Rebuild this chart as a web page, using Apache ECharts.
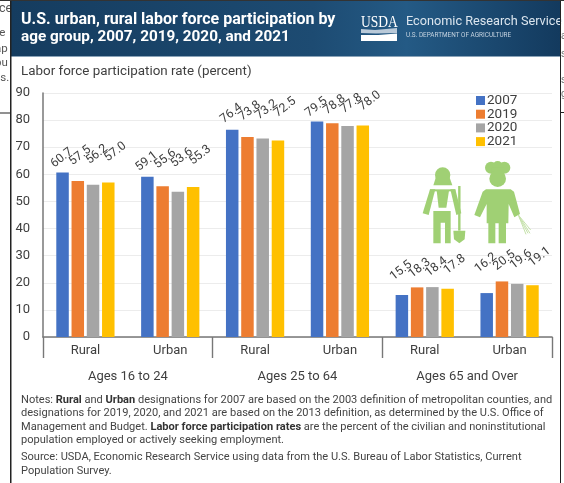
<!DOCTYPE html>
<html><head><meta charset="utf-8">
<style>html,body{margin:0;padding:0;background:#fff}#c{width:564px;height:483px;filter:blur(0.4px)}</style>
<script src="https://cdn.jsdelivr.net/npm/echarts@6/dist/echarts.min.js"></script>
</head><body><div id="c"></div>
<script>
const categories = ['Rural','Urban','Rural','Urban','Rural','Urban'];
const ageGroups = ['Ages 16 to 24','Ages 25 to 64','Ages 65 and Over'];
const years = ['2007','2019','2020','2021'];
const v2007 = [60.7,59.1,76.4,79.5,15.5,16.2];
const v2019 = [57.5,55.6,73.8,78.8,18.3,20.5];
const v2020 = [56.2,53.6,73.2,77.8,18.4,19.6];
const v2021 = [57.0,55.3,72.5,78.0,17.8,19.1];
const colors = ['#4472C4','#ED7D31','#A5A5A5','#FFC000'];
const values = [v2007,v2019,v2020,v2021];
const INK = '#3f3f3f', FONT = 'Roboto, "Liberation Sans", sans-serif', GREEN = '#A0D074';

function txt(x,y,text,size,fill,weight,z){
  return {type:'text',z:z||20,style:{x,y,text,font:(weight||'normal')+' '+size+'px '+FONT,fill,textVerticalAlign:'middle'}};
}
function rect(x,y,w,h,fill,r,z){return {type:'rect',z:z||20,shape:{x,y,width:w,height:h,r:r||0},style:{fill}};}
// icon helpers: coordinates in a 3x sketch space anchored at the icon area
const ix = x => 380 + x/3, iy = y => 80 + y/3;
function ipoly(pts,fill){return {type:'polygon',z:20,shape:{points:pts.map(p=>[ix(p[0]),iy(p[1])])},style:{fill:fill||GREEN}};}
function icirc(x,y,r,fill){return {type:'circle',z:20,shape:{cx:ix(x),cy:iy(y),r:r/3},style:{fill:fill||GREEN}};}
function iline(a,b,c,d,stroke,w){return {type:'line',z:20,shape:{x1:ix(a),y1:iy(b),x2:ix(c),y2:iy(d)},style:{stroke:stroke||GREEN,lineWidth:w||1}};}

const NOTE = 11.05;
const noteRich = {b:{font:'bold '+NOTE+'px '+FONT,fill:'#333'}, n:{font:'normal '+NOTE+'px '+FONT,fill:'#444'}};
function richTxt(y,text){
  return {type:'text',z:20,style:{x:21,y,text,font:'normal '+NOTE+'px '+FONT,fill:'#444',rich:noteRich,textVerticalAlign:'middle'}};
}

const graphic = [
  // fragments of the surrounding page
  rect(10,0,1.5,483,'#222',0,30),
  rect(560,0,1,483,'#222',0,30),
  rect(0,112.5,10,1,'#222',0,30),
  rect(560,112,4,1,'#222',0,30),
  rect(0,0,564,1,'#333',0,30),
  rect(11,57,4,60,'#fff',0,4),
  txt(-1,9,'ce',12.5,'#555','normal',2), txt(-7,33,'he',11.5,'#555','normal',2), txt(-5,49,'ap',11.5,'#555','normal',2),
  txt(-5,63,'pu',11.5,'#555','normal',2), txt(-6,78,'us.',11.5,'#555','normal',2),
  txt(561,36,'a',10,'#777','normal',2), txt(561,54,'s',10,'#777','normal',2), txt(561,80,'s',10,'#777','normal',2), txt(561,94,'g',10,'#777','normal',2),
  // header
  {type:'rect',z:10,shape:{x:11,y:0,width:549,height:56.5},style:{fill:{type:'linear',x:0,y:0,x2:1,y2:0,colorStops:[{offset:0,color:'#153c5f'},{offset:0.55,color:'#1d4b72'},{offset:0.72,color:'#245a85'},{offset:1,color:'#133a5e'}]}}},
  rect(11,56,549,1,'#8aa3b8',0,11),
  txt(21,20,'U.S. urban, rural labor force participation by',16,'#fff','bold'),
  txt(21,37.5,'age group, 2007, 2019, 2020, and 2021',15.3,'#fff','bold'),
  {type:'text',z:20,scaleX:0.82,originX:361,originY:23,style:{x:361,y:23,text:'USDA',font:'normal 16.5px "Liberation Serif", serif',fill:'#fff',textVerticalAlign:'middle'}},
  {type:'polygon',z:20,shape:{points:[[361,29],[375,30],[397,28],[397,33],[376,33.5],[361,33]]},style:{fill:'#b9c9d8'}},
  {type:'polygon',z:20,shape:{points:[[361,35],[378,35],[397,33.5],[397,41],[361,41]]},style:{fill:'#fff'}},
  txt(406,22,'Economic Research Service',12.7,'#dbe5ee'),
  txt(406,35.5,'U.S. DEPARTMENT OF AGRICULTURE',6.4,'#c5d3e0'),
  // axis title
  txt(21,72,'Labor force participation rate (percent)',13.4,INK),
  // notes
  richTxt(400.5,'Notes: {b|Rural} and {b|Urban} designations for 2007 are based on the 2003 definition of metropolitan counties, and'),
  richTxt(413.5,'designations for 2019, 2020, and 2021 are based on the 2013 definition, as determined by the U.S. Office of'),
  richTxt(427,'Management and Budget. {b|Labor force participation rates} are the percent of the civilian and noninstitutional'),
  richTxt(440.5,'population employed or actively seeking employment.'),
  richTxt(457.5,'Source: USDA, Economic Research Service using data from the U.S. Bureau of Labor Statistics, Current'),
  richTxt(471,'Population Survey.'),
  // farmer icon
  icirc(188,285,23), ipoly([[168,290],[208,290],[217,316],[160,316]]),
  ipoly([[150,328],[166,328],[146,405],[128,400]]), ipoly([[211,328],[226,328],[244,400],[229,405]]),
  ipoly([[150,328],[226,328],[226,334],[150,334]]),
  ipoly([[170,332],[207,332],[199,383],[176,383]]),
  ipoly([[160,393],[212,393],[212,490],[195,490],[195,428],[182,428],[182,490],[160,490]]),
  iline(238,318,238,452,GREEN,2.4),
  ipoly([[220,452],[256,452],[254,478],[238,490],[222,478]]),
  // chef icon
  icirc(333,263,18), icirc(353,258,15), icirc(373,263,18), ipoly([[335,262],[372,262],[372,285],[335,285]]),
  icirc(353,296,25),
  ipoly([[318,328],[392,328],[402,335],[420,402],[403,412],[386,372],[385,430],[378,430],[378,490],[356,490],[356,430],[346,430],[346,490],[325,490],[325,430],[320,430],[320,372],[300,412],[283,405],[308,335]]),
  iline(415,405,450,460,'#c6e2ab',1), iline(415,405,438,463,'#c6e2ab',1), iline(415,405,452,450,'#c6e2ab',1), iline(418,412,444,460,'#c6e2ab',1)
];

// label placement: labels of a group share one height, as in the reference
const pxPerUnit = 244/90;
const labelBase = [15,16,17,15,17,19];
const labelShiftX = [-1,3,5,9];
const groupMax = i => Math.max(v2007[i],v2019[i],v2020[i],v2021[i]);

const series = years.map((y,s)=>({
  name:y,type:'bar',barWidth:12.5,barGap:'22%',xAxisIndex:0,yAxisIndex:0,
  itemStyle:{color:colors[s]},
  data:values[s].map((v,i)=>({value:v,label:{distance:labelBase[i]+(groupMax(i)-v)*pxPerUnit}})),
  label:{show:true,position:'top',rotate:38,align:'center',verticalAlign:'middle',offset:[labelShiftX[s],0],
    color:INK,fontSize:12.3,fontFamily:FONT,formatter:p=>p.value.toFixed(1)}
}));

const chart = echarts.init(document.getElementById('c'),null,{renderer:'canvas'});
chart.setOption({
  animation:false,backgroundColor:'#fff',textStyle:{fontFamily:FONT},
  grid:{left:43,right:12,top:93,bottom:146,containLabel:false},
  legend:{show:true,orient:'vertical',left:476,top:93.5,padding:0,itemWidth:9,itemHeight:9,itemGap:-0.3,icon:'rect',
    textStyle:{fontSize:13.5,color:INK,fontFamily:FONT,padding:[0,0,0,-3]},data:years},
  xAxis:[
    {type:'category',data:categories,position:'bottom',axisLine:{show:true,lineStyle:{color:'#777',width:1.6}},axisTick:{show:false},
      axisLabel:{fontSize:13,color:INK,margin:7,fontFamily:FONT}},
    {type:'category',data:ageGroups,position:'bottom',axisLine:{show:false},
      axisTick:{show:true,alignWithLabel:false,length:21,lineStyle:{color:'#777',width:1.4}},
      axisLabel:{fontSize:13,color:INK,margin:33,fontFamily:FONT},splitLine:{show:false}}
  ],
  yAxis:{type:'value',min:0,max:90,interval:10,axisLine:{show:true,lineStyle:{color:'#777',width:1.5}},axisTick:{show:false},
    axisLabel:{fontSize:13,color:INK,margin:13,fontFamily:FONT},splitLine:{lineStyle:{color:'#ececec',width:1.2}}},
  series,graphic
});
</script></body></html>
